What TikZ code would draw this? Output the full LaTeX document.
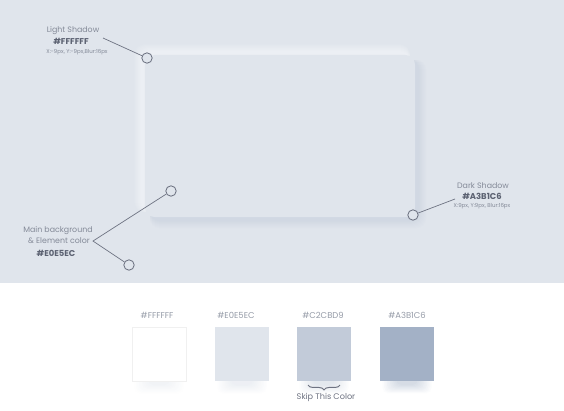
\documentclass[tikz,border=0pt]{standalone}
\usepackage{fontspec}
\setmainfont{Poppins}
\usetikzlibrary{positioning,decorations.pathreplacing}
\definecolor{mainbg}{HTML}{E0E5EC}
\definecolor{midtone}{HTML}{C2CBD9}
\definecolor{darkshade}{HTML}{A3B1C6}
\definecolor{labelgray}{HTML}{848A98}
\definecolor{hexgray}{HTML}{5C6272}
\definecolor{pingray}{HTML}{6E7382}

\begin{document}
\begin{tikzpicture}[x=0.025cm,y=-0.025cm,
    pin/.style={circle,draw=pingray,line width=0.6pt,fill=mainbg,minimum size=0.26cm,inner sep=0},
    leader/.style={draw=pingray,line width=0.5pt},
    title/.style={text=labelgray,font=\fontsize{5.6}{7}\selectfont,inner sep=0},
    hex/.style={text=hexgray,font=\bfseries\fontsize{6}{7}\selectfont,inner sep=0},
    note/.style={text=labelgray,font=\fontsize{3.9}{4}\selectfont,inner sep=0},
    swatch/.style={minimum size=1.35cm,inner sep=0},
    swatchlabel/.style={text=labelgray!85,font=\fontsize{6}{7}\selectfont,inner sep=0}]
    \useasboundingbox (0,0) rectangle (564,410);

    % Backgrounds
    \fill[mainbg] (0,0) rectangle (564,283);
    \fill[white] (0,283) rectangle (564,410);

    % Card shadows, outer layers first
    \foreach \i in {8,...,1} {
      \pgfmathtruncatemacro\k{3*(9-\i)}
      \fill[darkshade!\k!mainbg,rounded corners=7pt] (150,60) rectangle (415+3+\i,217+3+\i);
    }
    \foreach \i in {8,...,1} {
      \pgfmathtruncatemacro\k{5*(9-\i)}
      \fill[white!\k!mainbg,rounded corners=7pt] (145-3-\i,55-3-\i) rectangle (410,212);
    }
    \node[fill=mainbg,rounded corners=7pt,minimum width=6.75cm,minimum height=4.05cm,inner sep=0] (card) at (280,136) {};

    % Light shadow
    \node[title] (lstitle) at (73,31) {Light Shadow};
    \node[hex] (lshex) at (71,41) {\#FFFFFF};
    \node[note] (lsnote) at (77,52) {X:-9px, Y:-9px,Blur:16px};
    \coordinate (lsend) at (103,38);
    \node[pin] (lspin) at (147,58) {};
    \draw[leader] (lsend) -- (lspin);

    % Dark shadow
    \node[title] (dstitle) at (483,186) {Dark Shadow};
    \node[hex] (dshex) at (482,196) {\#A3B1C6};
    \node[note] (dsnote) at (482,206) {X:9px, Y:9px, Blur:16px};
    \coordinate (dsend) at (455,199);
    \node[pin] (dspin) at (413,215) {};
    \draw[leader] (dsend) -- (dspin);

    % Main background
    \node[title] (mbtitle) at (58,231) {Main background};
    \node[title] (mbsub) at (59,241) {\& Element color};
    \node[hex] (mbhex) at (56,253) {\#E0E5EC};
    \coordinate (mbend) at (93,241);
    \node[pin] (mbpintop) at (171,191) {};
    \node[pin] (mbpinbot) at (129,265) {};
    \draw[leader] (mbpintop) -- (mbend) -- (mbpinbot);

    % Swatch shadows
    \foreach \x/\op in {159/1.5,242/2,324/3,407/4.5} {
      \foreach \i in {1,...,10} {
        \pgfmathtruncatemacro\k{\op*\i}
        \fill[darkshade!\k!white,rounded corners=4pt] (\x-26+1.5*\i,340+0.5*\i) rectangle (\x+26-1.5*\i,394-0.9*\i);
      }
    }

    % Swatches
    \foreach \n/\x/\lx/\c/\t in {1/159/157/white/FFFFFF, 2/242/236/mainbg/E0E5EC, 3/324/323/midtone/C2CBD9, 4/407/407/darkshade/A3B1C6} {
      \node[swatch,fill=\c] (sw\n) at (\x,354) {};
      \node[swatchlabel] (swl\n) at (\lx,315) {\#\t};
    }
    \draw[black!6,line width=0.3pt] (sw1.south west) rectangle (sw1.north east);

    % Skip brace
    \coordinate (brr) at (340,385);
    \coordinate (brl) at (308,385);
    \draw[pingray,line width=0.7pt,decorate,decoration={brace,amplitude=3.5pt}] (brr) -- (brl);
    \node[text=pingray,font=\fontsize{5.8}{7}\selectfont,inner sep=0] (skip) at (326,397) {Skip This Color};
\end{tikzpicture}
\end{document}
